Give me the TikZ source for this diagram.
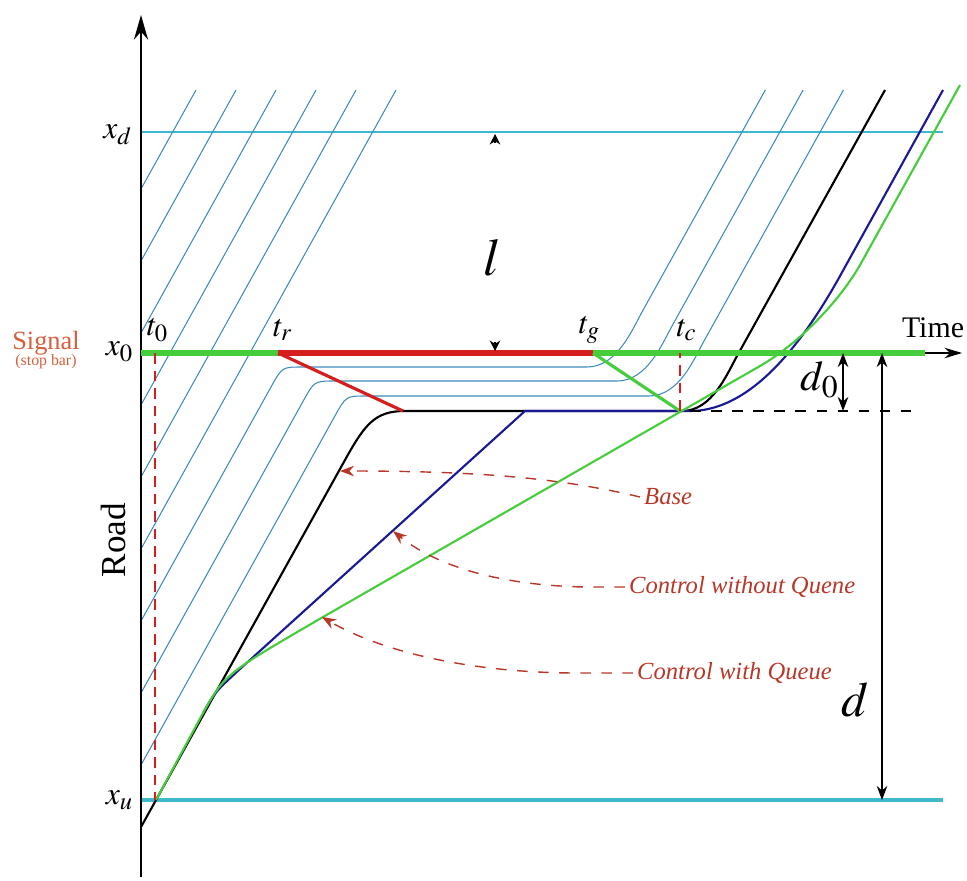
\documentclass[tikz,border=0pt]{standalone}
\usepackage{mathptmx}
\usepackage{fontspec}
\setmainfont{Liberation Serif}
\usetikzlibrary{arrows.meta}
\definecolor{trajcyan}{RGB}{60,140,190}
\definecolor{linecyan}{RGB}{60,185,205}
\definecolor{sigred}{RGB}{215,30,30}
\definecolor{siggreen}{RGB}{70,205,60}
\definecolor{notered}{RGB}{185,55,40}
\definecolor{sigorange}{RGB}{215,95,60}
\definecolor{navy}{RGB}{25,25,150}
\begin{document}
\begin{tikzpicture}[x=0.1mm, y=-0.1mm, every node/.style={font=\fontsize{9}{10}\selectfont},
  traj/.style={trajcyan, line width=0.3pt},
  veh/.style={line width=0.6pt},
  wave/.style={line width=0.9pt},
  note/.style={notered, dashed, line width=0.4pt, -{Stealth[length=4pt,width=3pt]}},
  lbl/.style={font=\fontsize{7}{8}\selectfont\itshape, text=notered, anchor=west, inner sep=1pt},
  dim/.style={line width=0.4pt, {Stealth[length=4pt,width=3pt]}-{Stealth[length=4pt,width=3pt]}},
  tick/.style={line width=0.3pt, -{Stealth[length=3pt,width=3pt]}}]
\useasboundingbox (0,0) rectangle (967,880);
\coordinate (tr) at (278,353);
\coordinate (tg) at (593,353);
\coordinate (qe) at (403,411);
\coordinate (tc) at (680,411);
% reference lines x_d and x_u
\draw[linecyan, line width=0.4pt] (141,132) -- (943,132);
\draw[linecyan, line width=1.1pt] (141,800) -- (943,800);
% free-flow vehicles passing on green
\foreach \t in {196,236,...,396} \draw[traj] (141,{90+1.8*(\t-141)}) -- (\t,90);
% vehicles stopped in the queue
\foreach \t/\q/\s in {436/367/587, 476/381/617, 516/396/649}
  \draw[traj] (141,{90+1.8*(\t-141)}) -- ({\t-(\q+20-90)/1.8},\q+20)
    .. controls ({\t-(\q-90)/1.8},\q) .. ({\t-(\q-90)/1.8+20},\q) -- (\s,\q)
    .. controls (\s+30,\q) and (\s+45,\q-37) .. (\s+55,\q-55) -- ({\s+55+(\q-145)/1.8},90);
% base, control without queue, control with queue
\draw[veh] (141,827) -- (345,460) .. controls (365,424) and (375,411) .. (405,411) -- (682,411)
  .. controls (712,411) and (727,374) .. (737,356) -- (885,90);
\draw[veh, navy] (203,713) .. controls (215,692) .. (240,669) -- (525,411) -- (690,411)
  .. controls (740,411) and (790,366) .. (840,276) -- (943,90);
\draw[veh, siggreen] (156,800) -- (203,713) .. controls (225,674) .. (323,617) -- (760,366)
  .. controls (800,343) and (840,300) .. (860,265) -- (960,85);
% axes
\draw[line width=0.6pt, -{Stealth[length=7pt,width=4pt]}] (141,877) -- (141,15);
\draw[line width=0.4pt, -{Stealth[length=5pt,width=3pt]}] (141,353) -- (962,353);
% signal phases at the stop line
\draw[siggreen, line width=1.7pt] (141,353) -- (tr);
\draw[sigred, line width=1.7pt] (tr) -- (tg);
\draw[siggreen, line width=1.7pt] (tg) -- (925,353);
\draw[sigred, wave] (tr) -- (qe);
\draw[siggreen, wave] (tg) -- (tc);
\draw[dashed, line width=0.4pt] (690,411) -- (920,411);
\draw[sigred, densely dashed, line width=0.4pt] (155,353) -- (155,800);
\draw[sigred, densely dashed, line width=0.4pt] (tc) -- (680,353);
% distances
\draw[dim] (843,353) -- (843,411);
\draw[dim] (882,353) -- (882,800);
\draw[tick] (495,143) -- (495,134);
\draw[tick] (495,342) -- (495,351);
% labels
\node (xd) at (118,135) {$x_d$};
\node (x0) at (120,352) {$x_0$};
\node (xu) at (120,800) {$x_u$};
\node (t0) at (158,330) {$t_0$};
\node (trl) at (283,330) {$t_r$};
\node (tgl) at (590,330) {$t_g$};
\node (tcl) at (687,330) {$t_c$};
\node[font=\fontsize{8.5}{10}\selectfont] (time) at (933,328) {Time};
\node[font=\fontsize{10}{12}\selectfont, rotate=90] (road) at (113,540) {Road};
\node[text=sigorange, font=\fontsize{7.5}{8}\selectfont] (sig) at (46,343) {Signal};
\node[text=sigorange, font=\fontsize{4.5}{5}\selectfont] (bar) at (46,362) {(stop bar)};
\node[font=\fontsize{15}{17}\selectfont] (l) at (492,258) {$l$};
\node[font=\fontsize{12}{14}\selectfont] (d0) at (820,380) {$d_0$};
\node[font=\fontsize{14}{16}\selectfont] (d) at (855,700) {$d$};
% annotations
\node[lbl] (base) at (640,497) {Base};
\node[lbl] (cwoq) at (625,587) {Control without Quene};
\node[lbl] (cwq) at (633,673) {Control with Queue};
\coordinate (onbase) at (340,471);
\coordinate (onblue) at (393,531);
\coordinate (ongreen) at (322,617);
\draw[note] (base.west) .. controls (560,478) and (480,471) .. (onbase);
\draw[note] (cwoq.west) -- ++(-40,0) .. controls (480,585) and (425,557) .. (onblue);
\draw[note] (cwq.west) -- ++(-60,0) .. controls (450,672) and (370,645) .. (ongreen);
\end{tikzpicture}
\end{document}
